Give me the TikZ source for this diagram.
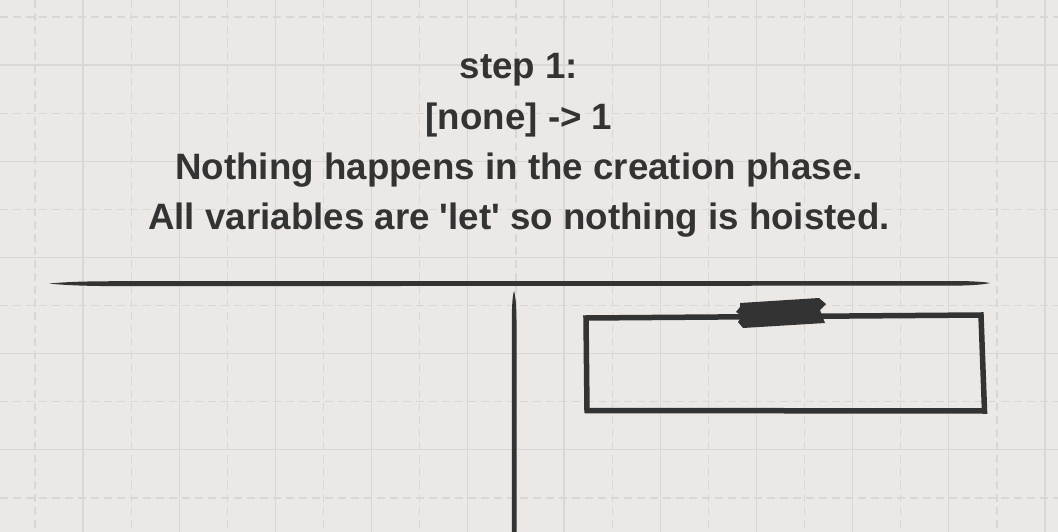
\documentclass[tikz,border=0pt]{standalone}
\usepackage{fontspec}
\setmainfont{Liberation Sans}
\newfontfamily\titlefont{Liberation Sans}
\definecolor{bg}{HTML}{EBE8E5}
\definecolor{gridsolid}{HTML}{DAD8D6}
\definecolor{griddash}{HTML}{D9D6D4}
\definecolor{ink}{HTML}{333333}
\tikzset{
  gridline/.style={draw=gridsolid, line width=1.3pt},
  griddashed/.style={draw=griddash, line width=1.3pt, dash pattern=on 8pt off 5pt},
  sketch/.style={draw=ink, line width=5.5pt, line join=miter},
  titletext/.style={text=ink, font=\titlefont\bfseries\fontsize{36.7}{50.3}\selectfont, align=center, inner sep=0pt},
}
\begin{document}
\begin{tikzpicture}[x=1pt,y=-1pt]
\fill[bg] (0,0) rectangle (1058,532);
\useasboundingbox (0,0) rectangle (1058,532);
% grid
\foreach \i in {0,...,10} {
  \pgfmathsetmacro{\xs}{83+96.2*\i}
  \pgfmathsetmacro{\xd}{35+96.2*\i}
  \draw[gridline] (\xs,0) -- (\xs,532);
  \draw[griddashed] (\xd,0) -- (\xd,532);
}
\foreach \i in {0,...,5} {
  \pgfmathsetmacro{\ys}{65+96.2*\i}
  \pgfmathsetmacro{\yd}{17+96.2*\i}
  \draw[gridline] (0,\ys) -- (1058,\ys);
  \draw[griddashed] (0,\yd) -- (1058,\yd);
}
% title text
\node[titletext] (title) at (519,145.5) {step 1:\\ {[none] -> 1}\\ Nothing happens in the creation phase.\\ All variables are 'let' so nothing is hoisted.};
% horizontal tapered line
\fill[ink] (49,283.6) .. controls (70,281.5) and (90,281.3) .. (120,281.2)
  -- (960,281.0) .. controls (975,281.3) and (985,282) .. (990,283)
  .. controls (985,284.3) and (975,285.2) .. (960,285.6)
  -- (120,286.2) .. controls (90,286.0) and (70,285.6) .. (49,283.6) -- cycle;
% vertical tapered line
\fill[ink] (514,291) .. controls (515.5,296) and (516.4,305) .. (516.5,320)
  -- (516.6,532) -- (511.8,532) -- (511.8,320)
  .. controls (511.9,305) and (512.5,296) .. (514,291) -- cycle;
% rectangle
\draw[sketch] (586,318) -- (981,315) -- (984.5,411) -- (587,410.5) -- cycle;
% tape
\fill[ink] (740,303) -- (819,298) -- (826,304) -- (820,310) -- (825,323) -- (743,328)
  -- (738,322) -- (742,316) -- (736,312) -- (740,307) -- cycle;
\end{tikzpicture}
\end{document}
